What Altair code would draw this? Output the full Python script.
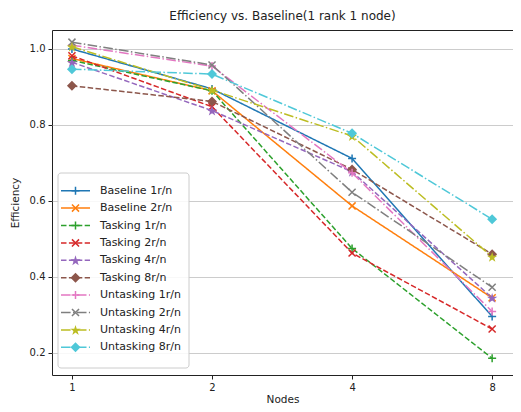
import math
import altair as alt
import pandas as pd

# ---------------- data ----------------
nodes = [1, 2, 4, 8]

series_names = [
    "Baseline 1r/n", "Baseline 2r/n",
    "Tasking 1r/n", "Tasking 2r/n", "Tasking 4r/n", "Tasking 8r/n",
    "Untasking 1r/n", "Untasking 2r/n", "Untasking 4r/n", "Untasking 8r/n",
]

baseline_1r = [1.000, 0.895, 0.712, 0.296]
baseline_2r = [0.975, 0.890, 0.587, 0.345]
tasking_1r = [0.970, 0.890, 0.475, 0.186]
tasking_2r = [0.982, 0.848, 0.463, 0.263]
tasking_4r = [0.965, 0.838, 0.677, 0.345]
tasking_8r = [0.903, 0.862, 0.683, 0.460]
untasking_1r = [1.010, 0.955, 0.674, 0.309]
untasking_2r = [1.018, 0.958, 0.623, 0.373]
untasking_4r = [1.006, 0.892, 0.771, 0.453]
untasking_8r = [0.947, 0.934, 0.778, 0.552]

series_values = [baseline_1r, baseline_2r, tasking_1r, tasking_2r, tasking_4r,
                 tasking_8r, untasking_1r, untasking_2r, untasking_4r, untasking_8r]

y_ticks = [0.2, 0.4, 0.6, 0.8, 1.0]

# ---------------- styles ----------------
colors = ["#1f77b4", "#ff7f0e", "#2ca02c", "#d62728", "#9467bd",
          "#8c564b", "#e377c2", "#7f7f7f", "#bcbd22", "#4fc8d8"]

SOLID = [1, 0]
DASH = [5.5, 2.4]
DASHDOT = [9.6, 2.4, 1.5, 2.4]
dashes = [SOLID, SOLID, DASH, DASH, DASH, DASH, DASHDOT, DASHDOT, DASHDOT, DASHDOT]

PLUS = "M-1,0L1,0M0,-1L0,1"
XMARK = "M-1,-1L1,1M-1,1L1,-1"


def star_path(inner=0.382):
    pts = []
    for i in range(10):
        r = 1.0 if i % 2 == 0 else inner
        a = -math.pi / 2 + i * math.pi / 5
        pts.append(f"{r * math.cos(a):.3f},{r * math.sin(a) + 0.1:.3f}")
    return "M" + "L".join(pts) + "Z"


STAR = star_path()
DIAMOND = "diamond"

markers = [PLUS, XMARK, PLUS, XMARK, STAR, DIAMOND, PLUS, XMARK, STAR, DIAMOND]
filled = [False, False, False, False, True, True, False, False, True, True]
sizes = [64, 50, 64, 50, 120, 100, 64, 50, 120, 100]

rows = []
for name, vals in zip(series_names, series_values):
    for n, v in zip(nodes, vals):
        rows.append({"series": name, "nodes": n, "eff": v})
df = pd.DataFrame(rows)

X = alt.X("nodes:Q",
          scale=alt.Scale(type="log", base=2, domain=[0.906, 8.87], nice=False),
          axis=alt.Axis(values=nodes, format="d", title="Nodes", grid=False))
Y = alt.Y("eff:Q",
          scale=alt.Scale(domain=[0.142, 1.05], nice=False, zero=False),
          axis=alt.Axis(values=y_ticks, format=".1f", title="Efficiency", grid=True))

data_layers = []
for i, name in enumerate(series_names):
    base = alt.Chart(df).transform_filter(alt.datum.series == name)
    line = base.mark_line(strokeWidth=1.5, strokeDash=dashes[i], color=colors[i]).encode(x=X, y=Y)
    pts = base.mark_point(shape=markers[i], filled=filled[i], size=sizes[i], color=colors[i],
                          strokeWidth=1.5, opacity=1).encode(x=X, y=Y)
    data_layers += [line, pts]

data_group = alt.layer(*data_layers)

# ---------------- legend ----------------
leg_df = pd.DataFrame({
    "series": series_names,
    "filled": filled,
    "size": sizes,
})
LY = alt.Y("series:N", sort=series_names,
           scale=alt.Scale(type="point", domain=series_names, range=[152, 326]),
           axis=None)
LC = alt.Color("series:N", scale=alt.Scale(domain=series_names, range=colors), legend=None)
LS = alt.Shape("series:N", scale=alt.Scale(domain=series_names, range=markers), legend=None)
LD = alt.StrokeDash("series:N", scale=alt.Scale(domain=series_names, range=dashes), legend=None)

box = alt.Chart(pd.DataFrame({"a": [0]})).mark_rect(
    fill="white", fillOpacity=0.85, stroke="#cccccc", strokeWidth=1, cornerRadius=3
).encode(x=alt.value(6), x2=alt.value(137), y=alt.value(143), y2=alt.value(338))

leg_rule = alt.Chart(leg_df).mark_rule(strokeWidth=1.5).encode(
    x=alt.value(9), x2=alt.value(38), y=LY, color=LC, strokeDash=LD)
leg_open = alt.Chart(leg_df).transform_filter("!datum.filled").mark_point(
    filled=False, strokeWidth=1.5, opacity=1).encode(
    x=alt.value(23.5), y=LY, color=LC, shape=LS, size=alt.Size("size:Q", scale=None))
leg_fill = alt.Chart(leg_df).transform_filter("datum.filled").mark_point(
    filled=True, strokeWidth=1, opacity=1).encode(
    x=alt.value(23.5), y=LY, color=LC, shape=LS, size=alt.Size("size:Q", scale=None))
leg_text = alt.Chart(leg_df).mark_text(align="left", baseline="middle", fontSize=11,
                                       font="DejaVu Sans", color="#222222").encode(
    x=alt.value(48), y=LY, text="series:N")

legend_group = alt.layer(box, leg_rule, leg_open, leg_fill, leg_text)

chart = alt.layer(data_group, legend_group).resolve_scale(
    y="independent", color="independent", shape="independent", strokeDash="independent"
).properties(
    width=461, height=345,
    title=alt.Title("Efficiency vs. Baseline(1 rank 1 node)", fontSize=12,
                    font="DejaVu Sans", fontWeight="normal", color="#222222", offset=7),
    autosize=alt.AutoSizeParams(type="none"),
    padding={"left": 44, "top": 22, "right": 0, "bottom": 29},
).configure_view(
    stroke="#222222", strokeWidth=1
).configure_axis(
    domain=False, tickColor="#222222", tickSize=4, tickWidth=1,
    labelFont="DejaVu Sans", labelFontSize=10, labelColor="#222222", labelPadding=3,
    titleFont="DejaVu Sans", titleFontSize=10.5, titleFontWeight="normal", titleColor="#222222",
    gridColor="#cccccc", gridWidth=1,
).configure_axisY(titlePadding=9).configure_axisX(titlePadding=2)

chart.save("out.html", embed_options={"renderer": "svg", "actions": False})
